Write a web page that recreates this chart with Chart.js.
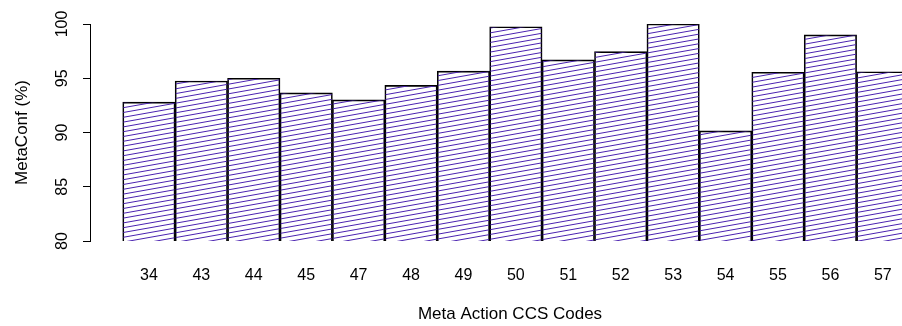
<!DOCTYPE html>
<html>
<head>
<meta charset="utf-8">
<script src="https://cdn.jsdelivr.net/npm/chart.js@4"></script>
<style>
  html, body { margin: 0; padding: 0; overflow: hidden; background: #fff; }
  #wrap { width: 930px; height: 326px; }
</style>
</head>
<body>
<div id="wrap"><canvas id="myChart"></canvas></div>
<script>
// codes on the x axis
let codes = ["34","43","44","45","47","48","49","50","51","52","53","54","55","56","57"];
// MetaConf values in percent
let metaConf = [92.8, 94.75, 95.0, 93.65, 93.0, 94.35, 95.65, 99.75, 96.7, 97.45, 100.0, 90.15, 95.55, 99.0, 95.6];
let yTicks = [80, 85, 90, 95, 100];

// hatch fill, thin violet lines (about 10 degrees)
function make_hatch(){
    let c = document.createElement("canvas");
    c.width = 54; c.height = 24;
    let g = c.getContext("2d");
    g.strokeStyle = "#4a22b0";
    g.lineWidth = 1;
    for (let y = -48; y <= 72; y += 4.8) {
        g.beginPath();
        g.moveTo(0, y);
        g.lineTo(54, y - 9.6);
        g.stroke();
    }
    return g.createPattern(c, "repeat");
}

let points = metaConf.map((v, i) => ({x: i, y: v}));
let fontTick = { family: "Liberation Sans, Arial, sans-serif", size: 16 };
let fontTitle = { family: "Liberation Sans, Arial, sans-serif", size: 17 };

new Chart("myChart", {
  type: "bar",
  data: {
    datasets: [{
      data: points,
      backgroundColor: make_hatch(),
      borderColor: "#000",
      borderWidth: 1,
      categoryPercentage: 1,
      barPercentage: 1
    }]
  },
  options: {
    responsive: true,
    maintainAspectRatio: false,
    animation: false,
    layout: { padding: { top: 24, left: 0, right: 0, bottom: 0 } },
    plugins: { legend: { display: false }, tooltip: { enabled: false } },
    scales: {
      x: {
        type: "linear",
        offset: false,
        min: -1.124,
        max: 14.9,
        afterBuildTicks: s => { s.ticks = codes.map((c, i) => ({value: i})); },
        afterFit: s => { s.height = 85; },
        grid: { display: false, drawTicks: false, offset: false },
        border: { display: false },
        ticks: {
          padding: 25,
          color: "#000",
          font: fontTick,
          maxRotation: 0,
          autoSkip: false,
          callback: v => codes[v]
        },
        title: {
          display: true,
          text: "Meta Action CCS Codes",
          color: "#000",
          font: fontTitle,
          padding: { top: 0, bottom: 1 }
        }
      },
      y: {
        min: 80,
        max: 100,
        afterBuildTicks: s => { s.ticks = yTicks.map(v => ({value: v})); },
        afterFit: s => { s.width = 90; },
        grid: { drawOnChartArea: false, tickLength: 7, color: "#000", lineWidth: 1 },
        border: { display: true, color: "#000", width: 1 },
        ticks: {
          color: "#000",
          font: fontTick,
          minRotation: 90,
          maxRotation: 90,
          crossAlign: "center",
          padding: 7
        },
        title: {
          display: true,
          text: "MetaConf (%)",
          color: "#000",
          font: fontTitle,
          padding: { top: 12, bottom: 0 }
        }
      }
    }
  }
});
</script>
</body>
</html>
